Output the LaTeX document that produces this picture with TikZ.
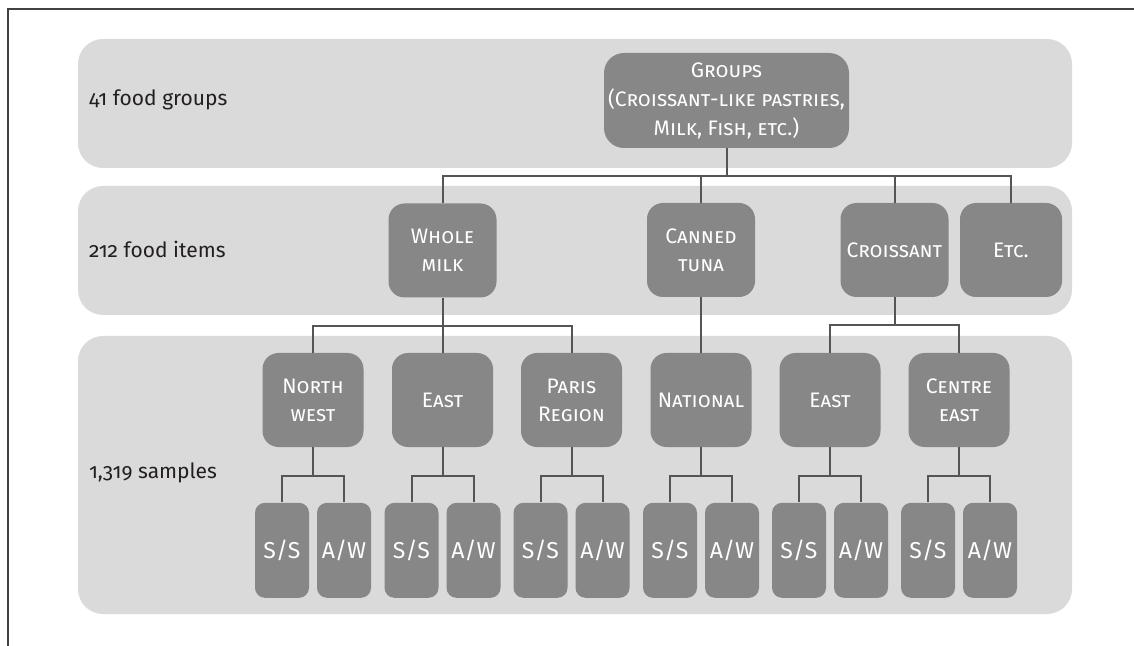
\documentclass[tikz,border=0pt]{standalone}
\usepackage{fontspec}
\setmainfont{Fira Sans}[Numbers=OldStyle]
\usetikzlibrary{positioning}
\definecolor{bandgray}{HTML}{DADADA}
\definecolor{boxgray}{HTML}{878787}
\definecolor{wiregray}{HTML}{555555}
\definecolor{inkgray}{HTML}{231F20}

\begin{document}
\begin{tikzpicture}[x=0.5pt,y=-0.5pt,
  band/.style={fill=bandgray,rounded corners=12.5pt},
  level label/.style={anchor=west,text=inkgray,font=\fontsize{10.5}{13}\selectfont},
  group node/.style={fill=boxgray,text=white,rounded corners=10pt,align=center,inner sep=0pt,
    minimum width=122.5pt,minimum height=47.5pt,font=\fontsize{10.5}{14.5}\selectfont\scshape},
  item node/.style={group node,rounded corners=8pt,minimum width=54pt,minimum height=47pt,
    font=\fontsize{10.5}{14}\selectfont\scshape},
  region node/.style={item node,minimum width=50.5pt},
  season node/.style={fill=boxgray,text=white,rounded corners=5pt,inner sep=0pt,
    minimum width=27pt,minimum height=47.5pt,font=\fontsize{11.5}{14}\selectfont},
  wire/.style={draw=wiregray,line width=1pt}]
  \useasboundingbox (0,0) rectangle (1134,646);

  % frame and bands
  \draw[line width=1pt,draw=inkgray!85] (1134,9) -- (8,9) -- (8,646);
  \fill[band] (78,39) rectangle (1072,168);
  \fill[band] (78,186) rectangle (1072,315);
  \fill[band] (78,336) rectangle (1072,614);

  \node[level label] (lgroups) at (82,100) {41 food groups};
  \node[level label] (litems) at (82,249) {212 food items};
  \node[level label] (lsamples) at (82,473) {1,319 samples};

  % groups and items
  \node[group node] (groups) at (726.5,100.5) {Groups\\(Croissant-like pastries,\\Milk, Fish, etc.)};
  \node[item node] (milk) at (442.5,250.5) {Whole\\milk};
  \node[item node] (tuna) at (701,250) {Canned\\tuna};
  \node[item node] (croissant) at (894.5,250) {Croissant};
  \node[item node,minimum width=51pt] (etc) at (1011,250) {Etc.};

  % regions
  \node[region node] (nw) at (313,400) {North\\west};
  \node[region node] (east) at (442.5,400) {East};
  \node[region node] (paris) at (571.5,400) {Paris\\Region};
  \node[region node] (national) at (701,400) {National};
  \node[region node] (east2) at (830,400) {East};
  \node[region node] (centre) at (959,400) {Centre\\east};

  % seasons
  \node[season node] (nw ss) [below=27.5pt of nw,xshift=-15.5pt] {S/S};
  \node[season node] (nw aw) [below=27.5pt of nw,xshift=15.5pt] {A/W};
  \node[season node] (east ss) [below=27.5pt of east,xshift=-15.5pt] {S/S};
  \node[season node] (east aw) [below=27.5pt of east,xshift=15.5pt] {A/W};
  \node[season node] (paris ss) [below=27.5pt of paris,xshift=-15.5pt] {S/S};
  \node[season node] (paris aw) [below=27.5pt of paris,xshift=15.5pt] {A/W};
  \node[season node] (national ss) [below=27.5pt of national,xshift=-15.5pt] {S/S};
  \node[season node] (national aw) [below=27.5pt of national,xshift=15.5pt] {A/W};
  \node[season node] (east2 ss) [below=27.5pt of east2,xshift=-15.5pt] {S/S};
  \node[season node] (east2 aw) [below=27.5pt of east2,xshift=15.5pt] {A/W};
  \node[season node] (centre ss) [below=27.5pt of centre,xshift=-15.5pt] {S/S};
  \node[season node] (centre aw) [below=27.5pt of centre,xshift=15.5pt] {A/W};

  % connectors
  \draw[wire] (groups.south) -- ++(0,28) -| (milk.north);
  \draw[wire] (groups.south) -- ++(0,28) -| (tuna.north);
  \draw[wire] (groups.south) -- ++(0,28) -| (croissant.north);
  \draw[wire] (groups.south) -- ++(0,28) -| (etc.north);
  \draw[wire] (milk.south) -- ++(0,28) -| (nw.north);
  \draw[wire] (milk.south) -- (east.north);
  \draw[wire] (milk.south) -- ++(0,28) -| (paris.north);
  \draw[wire] (tuna.south) -- (national.north);
  \draw[wire] (croissant.south) -- ++(0,28) -| (east2.north);
  \draw[wire] (croissant.south) -- ++(0,28) -| (centre.north);
  \draw[wire] (nw.south) -- ++(0,29) -| (nw ss.north);
  \draw[wire] (nw.south) -- ++(0,29) -| (nw aw.north);
  \draw[wire] (east.south) -- ++(0,29) -| (east ss.north);
  \draw[wire] (east.south) -- ++(0,29) -| (east aw.north);
  \draw[wire] (paris.south) -- ++(0,29) -| (paris ss.north);
  \draw[wire] (paris.south) -- ++(0,29) -| (paris aw.north);
  \draw[wire] (national.south) -- ++(0,29) -| (national ss.north);
  \draw[wire] (national.south) -- ++(0,29) -| (national aw.north);
  \draw[wire] (east2.south) -- ++(0,29) -| (east2 ss.north);
  \draw[wire] (east2.south) -- ++(0,29) -| (east2 aw.north);
  \draw[wire] (centre.south) -- ++(0,29) -| (centre ss.north);
  \draw[wire] (centre.south) -- ++(0,29) -| (centre aw.north);
\end{tikzpicture}
\end{document}
